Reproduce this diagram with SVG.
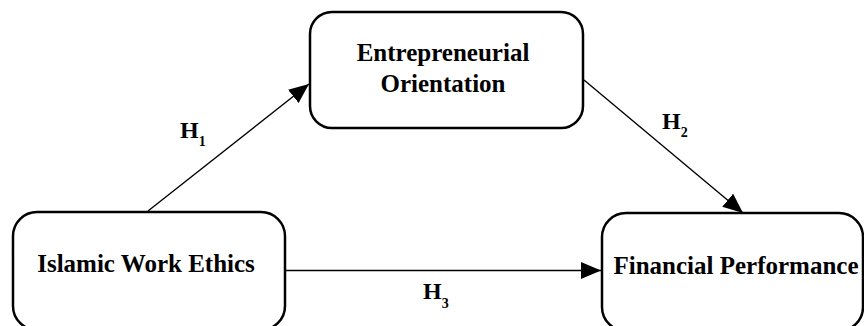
<svg xmlns="http://www.w3.org/2000/svg" width="864" height="326" viewBox="0 0 864 326">
<style>
.box{fill:#fff;stroke:#000;stroke-width:2.5}
.lbl{font-family:"Liberation Serif","Times New Roman",serif;font-weight:bold;font-size:25px;fill:#000}
.h{font-family:"Liberation Serif","Times New Roman",serif;font-weight:bold;font-size:24px;fill:#000}
.sub{font-size:14px}
.edge{stroke:#000;stroke-width:1.4;fill:none}
</style>
<defs>
<marker id="ah" markerUnits="userSpaceOnUse" markerWidth="22" markerHeight="18" refX="20" refY="8.5" orient="auto">
<path d="M0,0 L20,8.5 L0,17 z" fill="#000"/>
</marker>
</defs>
<rect width="864" height="326" fill="#fff"/>
<g id="connectors">
<line class="edge" x1="148" y1="211" x2="309" y2="84" marker-end="url(#ah)"/>
<line class="edge" x1="584" y1="80" x2="743" y2="213" marker-end="url(#ah)"/>
<line class="edge" x1="286" y1="270.5" x2="601" y2="270.5" marker-end="url(#ah)"/>
<text class="h" x="180" y="138">H<tspan class="sub" dy="8">1</tspan></text>
<text class="h" x="662" y="129">H<tspan class="sub" dy="8">2</tspan></text>
<text class="h" x="423" y="299">H<tspan class="sub" dy="9">3</tspan></text>
</g>
<g id="node-eo">
<rect class="box" x="310" y="12" width="273" height="116" rx="22"/>
<text class="lbl" x="443" y="61" text-anchor="middle">Entrepreneurial</text>
<text class="lbl" x="443" y="92" text-anchor="middle">Orientation</text>
</g>
<g id="node-iwe">
<rect class="box" x="13" y="212" width="272" height="118" rx="24"/>
<text class="lbl" x="146" y="272" text-anchor="middle">Islamic Work Ethics</text>
</g>
<g id="node-fp">
<rect class="box" x="602" y="213" width="261" height="118" rx="24"/>
<text class="lbl" x="736" y="274" text-anchor="middle">Financial Performance</text>
</g>
</svg>
